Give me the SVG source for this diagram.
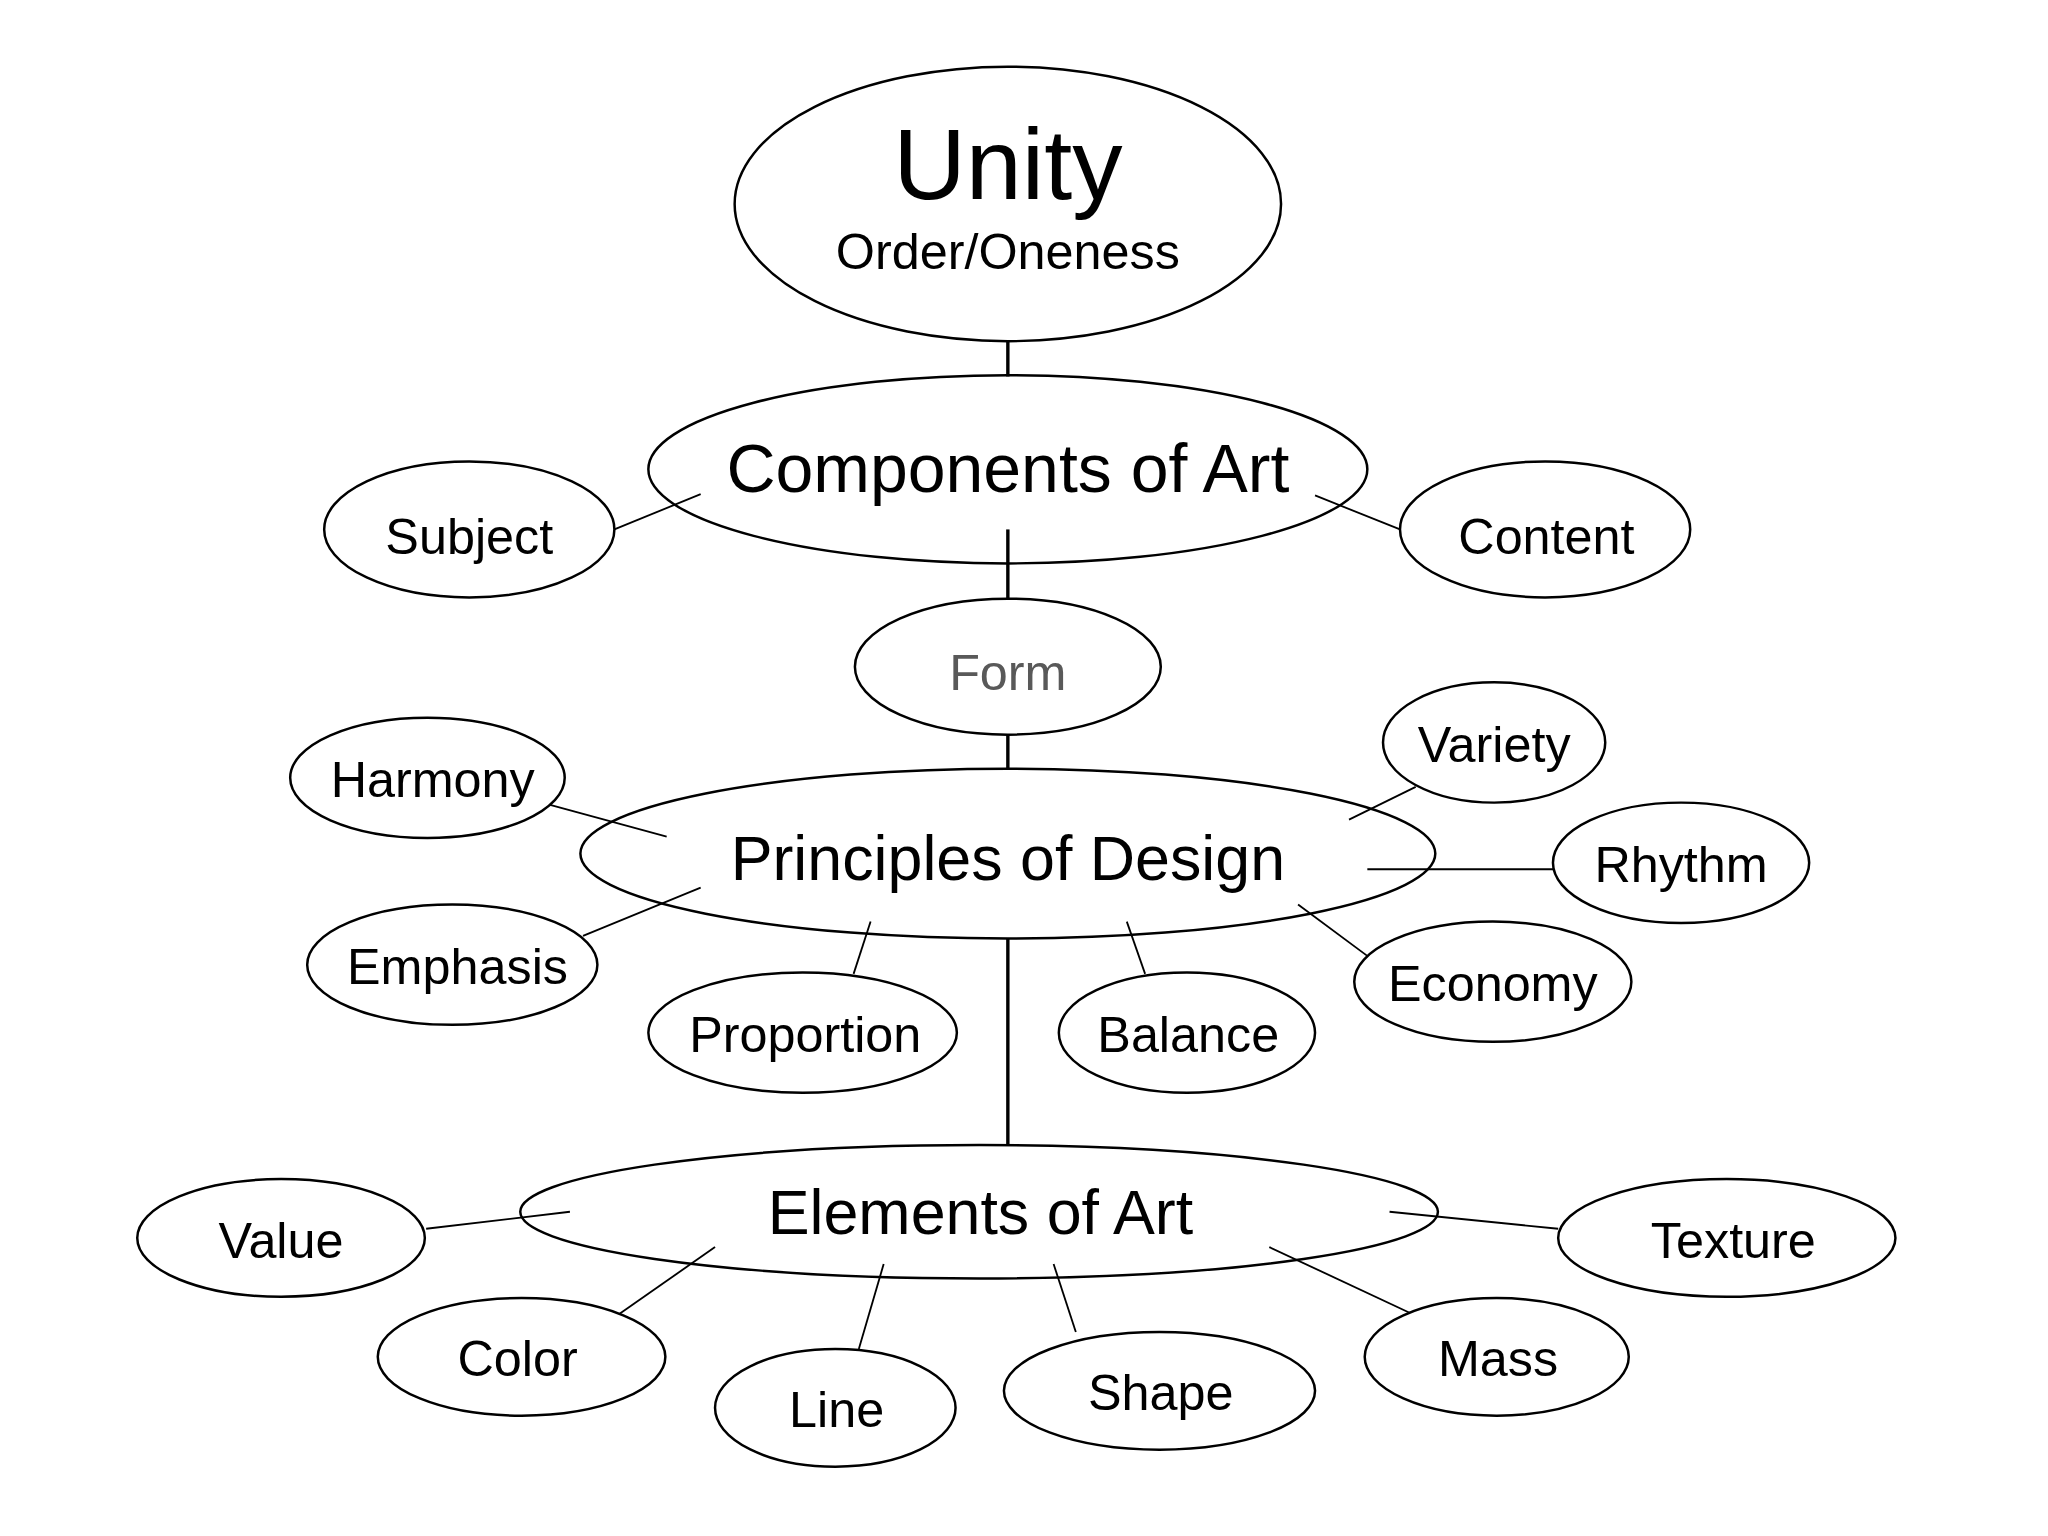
<svg xmlns="http://www.w3.org/2000/svg" width="2048" height="1536" viewBox="0 0 2048 1536">
<style>
.n{fill:#fff;stroke:#000;stroke-width:1.9}
.t{font-family:"Liberation Sans",Arial,sans-serif;font-size:38.5px;text-anchor:middle;fill:#000}
.big{font-size:48px}
.main{stroke:#000;stroke-width:2.6;fill:none}
.thin{stroke:#000;stroke-width:1.4;fill:none}
</style>
<rect width="2048" height="1536" fill="#fff"/>
<g transform="scale(1.3072)">
<g id="connectors">
<line class="main" x1="771" y1="261" x2="771" y2="288"/>
<line class="main" x1="771" y1="405" x2="771" y2="458"/>
<line class="main" x1="771" y1="562" x2="771" y2="588"/>
<line class="main" x1="771" y1="718" x2="771" y2="876"/>
<line class="thin" x1="470" y1="405" x2="536" y2="378"/>
<line class="thin" x1="1006" y1="379" x2="1071" y2="405"/>
<line class="thin" x1="418" y1="615" x2="510" y2="640"/>
<line class="thin" x1="1083" y1="602" x2="1032" y2="627"/>
<line class="thin" x1="1046" y1="665" x2="1190" y2="665"/>
<line class="thin" x1="446" y1="716" x2="536" y2="679"/>
<line class="thin" x1="666" y1="705" x2="653" y2="745"/>
<line class="thin" x1="862" y1="705" x2="876" y2="745"/>
<line class="thin" x1="993" y1="692" x2="1047" y2="732"/>
<line class="thin" x1="326" y1="940" x2="436" y2="927"/>
<line class="thin" x1="1063" y1="927" x2="1192" y2="940"/>
<line class="thin" x1="474" y1="1005" x2="547" y2="954"/>
<line class="thin" x1="676" y1="967" x2="657" y2="1032"/>
<line class="thin" x1="806" y1="967" x2="823" y2="1019"/>
<line class="thin" x1="971" y1="954" x2="1082" y2="1006"/>
</g>
<g id="unity"><ellipse class="n" cx="771" cy="156" rx="209" ry="105"/>
<text class="t" x="771" y="152" style="font-size:77px">Unity</text>
<text class="t" x="771" y="206">Order/Oneness</text></g>
<g id="components"><ellipse class="n" cx="771" cy="359" rx="275" ry="72" style="fill:none"/>
<text class="t big" x="771" y="376" style="font-size:52px">Components of Art</text></g>
<g id="subject"><ellipse class="n" cx="359" cy="405" rx="111" ry="52"/><text class="t" x="359" y="424">Subject</text></g>
<g id="content"><ellipse class="n" cx="1182" cy="405" rx="111" ry="52"/><text class="t" x="1183" y="424">Content</text></g>
<g id="form"><ellipse class="n" cx="771" cy="510" rx="117" ry="52"/><text class="t" x="771" y="528" style="fill:#595959">Form</text></g>
<g id="principles"><ellipse class="n" cx="771" cy="653" rx="327" ry="65" style="fill:none"/>
<text class="t big" x="771" y="673">Principles of Design</text></g>
<g id="harmony"><ellipse class="n" cx="327" cy="595" rx="105" ry="46"/><text class="t" x="331" y="610">Harmony</text></g>
<g id="variety"><ellipse class="n" cx="1143" cy="568" rx="85" ry="46"/><text class="t" x="1143" y="583">Variety</text></g>
<g id="rhythm"><ellipse class="n" cx="1286" cy="660" rx="98" ry="46"/><text class="t" x="1286" y="675">Rhythm</text></g>
<g id="emphasis"><ellipse class="n" cx="346" cy="738" rx="111" ry="46"/><text class="t" x="350" y="753">Emphasis</text></g>
<g id="proportion"><ellipse class="n" cx="614" cy="790" rx="118" ry="46"/><text class="t" x="616" y="805">Proportion</text></g>
<g id="balance"><ellipse class="n" cx="908" cy="790" rx="98" ry="46"/><text class="t" x="909" y="805">Balance</text></g>
<g id="economy"><ellipse class="n" cx="1142" cy="751" rx="106" ry="46"/><text class="t" x="1142" y="766">Economy</text></g>
<g id="elements"><ellipse class="n" cx="749" cy="927" rx="351" ry="51" style="fill:none"/>
<text class="t big" x="750" y="944">Elements of Art</text></g>
<g id="value"><ellipse class="n" cx="215" cy="947" rx="110" ry="45"/><text class="t" x="215" y="962">Value</text></g>
<g id="texture"><ellipse class="n" cx="1321" cy="947" rx="129" ry="45"/><text class="t" x="1326" y="962">Texture</text></g>
<g id="color"><ellipse class="n" cx="399" cy="1038" rx="110" ry="45"/><text class="t" x="396" y="1053">Color</text></g>
<g id="line"><ellipse class="n" cx="639" cy="1077" rx="92" ry="45"/><text class="t" x="640" y="1092">Line</text></g>
<g id="shape"><ellipse class="n" cx="887" cy="1064" rx="119" ry="45"/><text class="t" x="888" y="1079">Shape</text></g>
<g id="mass"><ellipse class="n" cx="1145" cy="1038" rx="101" ry="45"/><text class="t" x="1146" y="1053">Mass</text></g>
</g>
</svg>
